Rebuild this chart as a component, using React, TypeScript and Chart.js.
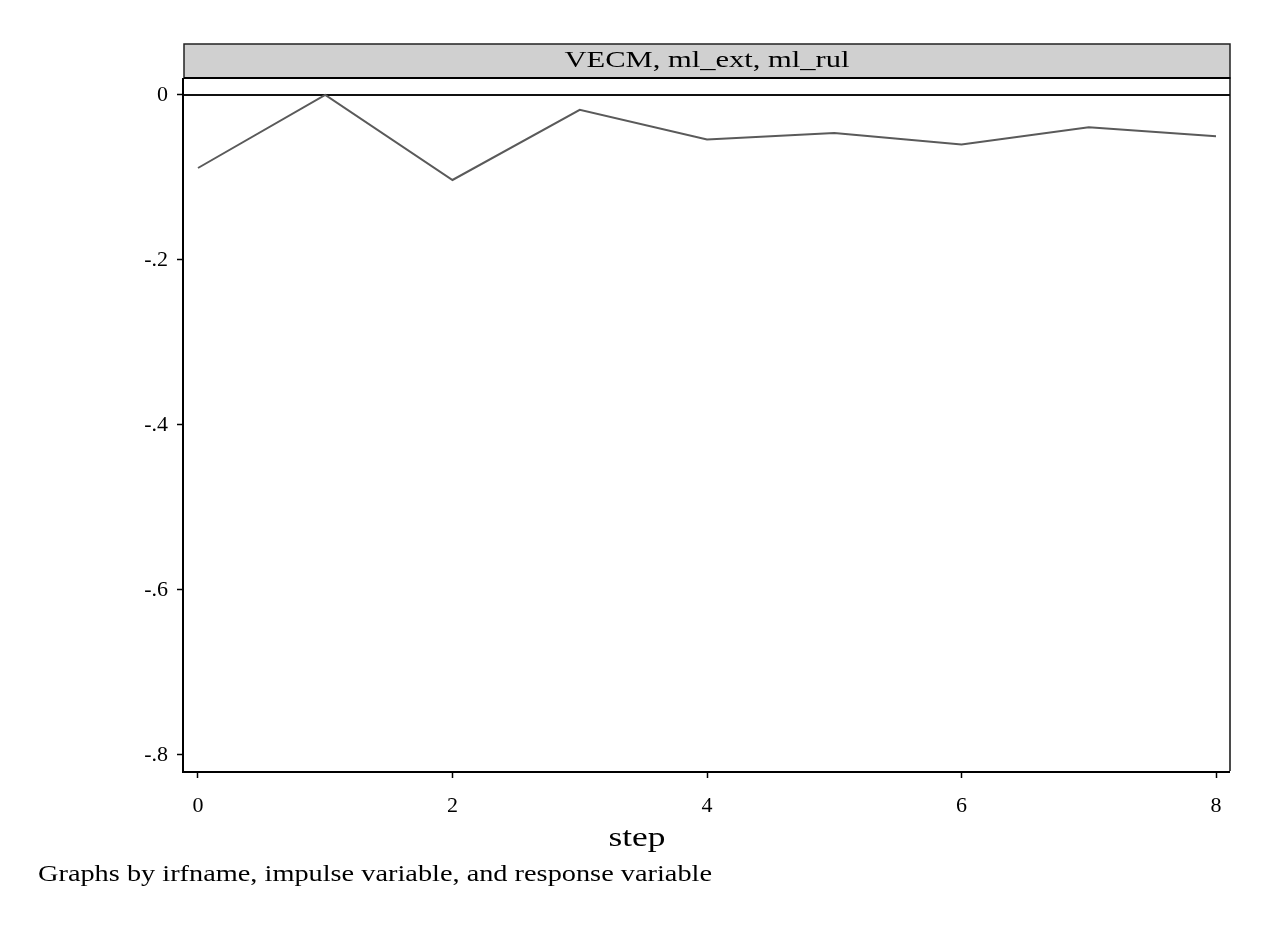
import React, { useEffect, useRef } from "react";
import { Chart, registerables } from "chart.js";

Chart.register(...registerables);

const steps: number[] = [0, 1, 2, 3, 4, 5, 6, 7, 8];
const irfValues: number[] = [-0.0885, 0.0, -0.103, -0.018, -0.054, -0.046, -0.060, -0.039, -0.050];
const yTickValues: number[] = [0, -0.2, -0.4, -0.6, -0.8];
const yTickLabels: string[] = ["0", "-.2", "-.4", "-.6", "-.8"];
const xTickValues: number[] = [0, 2, 4, 6, 8];
const panelTitle = "VECM, ml_ext, ml_rul";
const xAxisTitle = "step";
const footnote = "Graphs by irfname, impulse variable, and response variable";

const FONT = '"Liberation Serif", "DejaVu Serif", serif';

function drawText(ctx: any, text: string, x: number, y: number, size: number, targetWidth: number, align: "left" | "center") {
  ctx.save();
  ctx.font = `${size}px ${FONT}`;
  ctx.textAlign = "left";
  const w = ctx.measureText(text).width;
  const sx = targetWidth / w;
  const startX = align === "center" ? x - targetWidth / 2 : x;
  ctx.translate(startX, y);
  ctx.scale(sx, 1);
  ctx.fillText(text, 0, 0);
  ctx.restore();
}

const framePlugin = {
  id: "stataFrame",
  beforeDatasetsDraw(chart: any) {
    const { ctx, chartArea, scales } = chart;
    const y0 = scales.y.getPixelForValue(0);
    ctx.save();
    ctx.strokeStyle = "#111";
    ctx.lineWidth = 1.8;
    ctx.beginPath();
    ctx.moveTo(chartArea.left, y0);
    ctx.lineTo(chartArea.right, y0);
    ctx.stroke();
    ctx.restore();
  },
  afterDraw(chart: any) {
    const { ctx, chartArea } = chart;
    const { left, right, top, bottom } = chartArea;
    ctx.save();
    // header band
    const bandTop = 44;
    ctx.fillStyle = "#d0d0d0";
    ctx.fillRect(left, bandTop, right - left, top - bandTop);
    ctx.strokeStyle = "#222";
    ctx.lineWidth = 1.5;
    ctx.strokeRect(left, bandTop, right - left, top - bandTop);
    ctx.fillStyle = "#000";
    ctx.textBaseline = "alphabetic";
    drawText(ctx, panelTitle, 707, 67, 23, 285, "center");
    // plot frame
    ctx.lineWidth = 1.5;
    ctx.strokeStyle = "#111";
    ctx.beginPath();
    ctx.moveTo(left, top);
    ctx.lineTo(right, top);
    ctx.lineTo(right, bottom);
    ctx.stroke();
    ctx.lineWidth = 2;
    ctx.strokeStyle = "#000";
    ctx.beginPath();
    ctx.moveTo(left - 1, top);
    ctx.lineTo(left - 1, bottom + 1);
    ctx.lineTo(right, bottom + 1);
    ctx.stroke();
    ctx.beginPath();
    ctx.moveTo(left, top);
    ctx.lineTo(right, top);
    ctx.stroke();
    // axis title
    drawText(ctx, xAxisTitle, 637, 846, 27, 57, "center");
    // footnote
    drawText(ctx, footnote, 38, 881, 24, 674, "left");
    ctx.restore();
  },
};

export default function App() {
  const ref = useRef<HTMLCanvasElement>(null);
  useEffect(() => {
    document.body.style.margin = "0";
    const chart = new Chart(ref.current as HTMLCanvasElement, {
      type: "line",
      data: {
        datasets: [
          {
            data: steps.map((s, i) => ({ x: s, y: irfValues[i] })),
            borderColor: "#5a5a5a",
            borderWidth: 2,
            pointRadius: 0,
            tension: 0,
            fill: false,
          },
        ],
      },
      options: {
        animation: false,
        responsive: false,
        maintainAspectRatio: false,
        layout: { padding: { top: 78, right: 46, left: 0, bottom: 0 } },
        plugins: { legend: { display: false }, tooltip: { enabled: false } },
        scales: {
          x: {
            type: "linear",
            min: -0.11,
            max: 8.11,
            afterBuildTicks: (scale: any) => {
              scale.ticks = xTickValues.map((v) => ({ value: v }));
            },
            afterFit: (scale: any) => {
              scale.height = 157;
            },
            grid: {
              drawOnChartArea: false,
              drawTicks: true,
              tickLength: 7,
              tickColor: "#000",
              tickWidth: 1.5,
            },
            border: { display: false },
            ticks: {
              color: "#000",
              font: { family: FONT, size: 22 },
              padding: 15,
              maxRotation: 0,
              callback: (v: any) => String(v),
            },
          },
          y: {
            type: "linear",
            min: -0.8194,
            max: 0.0206,
            afterBuildTicks: (scale: any) => {
              scale.ticks = yTickValues.map((v) => ({ value: v }));
            },
            afterFit: (scale: any) => {
              scale.width = 184;
            },
            grid: {
              drawOnChartArea: false,
              drawTicks: true,
              tickLength: 7,
              tickColor: "#000",
              tickWidth: 1.5,
            },
            border: { display: false },
            ticks: {
              color: "#000",
              font: { family: FONT, size: 22 },
              padding: 9,
              callback: (v: any) => {
                const i = yTickValues.findIndex((t) => Math.abs(t - v) < 1e-9);
                return i >= 0 ? yTickLabels[i] : "";
              },
            },
          },
        },
      },
      plugins: [framePlugin],
    });
    return () => chart.destroy();
  }, []);
  return <canvas ref={ref} width={1276} height={928} style={{ display: "block" }} />;
}
